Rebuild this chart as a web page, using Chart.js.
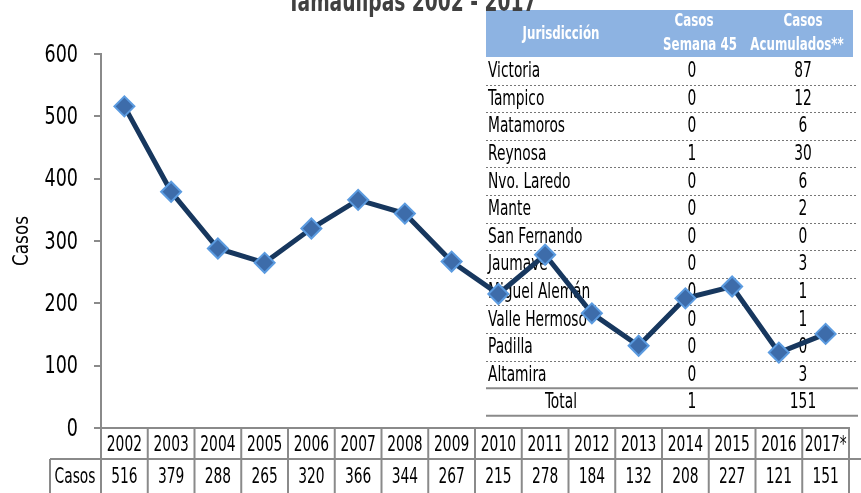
<!DOCTYPE html>
<html lang="es">
<head>
<meta charset="UTF-8">
<title>Casos Tamaulipas 2002 - 2017</title>
<style>
  body { margin: 0; background: #fff; }
  canvas { display: block; }
</style>
</head>
<body>
<canvas id="chart" width="861" height="493"></canvas>
<script src="https://cdn.jsdelivr.net/npm/chart.js"></script>
<script>
// datos
var years = ['2002','2003','2004','2005','2006','2007','2008','2009','2010','2011','2012','2013','2014','2015','2016','2017*']
var casos = [516,379,288,265,320,366,344,267,215,278,184,132,208,227,121,151]
var yTicks = [0,100,200,300,400,500,600]

var jurisdicciones = ['Victoria','Tampico','Matamoros','Reynosa','Nvo. Laredo','Mante','San Fernando','Jaumave','Miguel Alemán','Valle Hermoso','Padilla','Altamira']
var semana45 = [0,0,0,1,0,0,0,0,0,0,0,0]
var acumulados = [87,12,6,30,6,2,0,3,1,1,0,3]
var totalSemana = 1
var totalAcum = 151

var FONT = "'DejaVu Sans Condensed', 'DejaVu Sans', sans-serif"
var GRAY = '#8a8a8a'
var SX = 0.73 // el original usa una letra muy angosta

// texto comprimido a lo ancho
function txt(ctx, s, x, y, align, sx) {
  ctx.save()
  ctx.translate(x, y)
  ctx.scale(sx || SX, 1)
  ctx.textAlign = align || 'center'
  ctx.fillText(s, 0, 0)
  ctx.restore()
}

var tablas = {
  id: 'tablas',
  beforeDatasetsDraw: function(chart) {
    var ctx = chart.ctx
    ctx.save()
    // encabezado
    var left = 486, right = 853, top = 10, bottom = 57
    ctx.fillStyle = '#8db3e2'
    ctx.fillRect(left, top, right - left, bottom - top)
    ctx.fillStyle = '#fff'
    ctx.font = 'bold 18px ' + FONT
    ctx.textBaseline = 'middle'
    txt(ctx, 'Jurisdicción', 561, 34)
    txt(ctx, 'Casos', 694, 21)
    txt(ctx, 'Semana 45', 700, 45)
    txt(ctx, 'Casos', 803, 21)
    txt(ctx, 'Acumulados**', 797, 45)

    var rowH = 27.6
    ctx.font = '21px ' + FONT
    ctx.fillStyle = '#000'
    for (var i = 0; i < jurisdicciones.length; i++) {
      var cy = bottom + rowH * i + rowH / 2 + 1
      txt(ctx, jurisdicciones[i], 488, cy, 'left')
      txt(ctx, String(semana45[i]), 692, cy)
      txt(ctx, String(acumulados[i]), 803, cy)
      if (i < jurisdicciones.length - 1) {
        var ly = Math.round(bottom + rowH * (i + 1)) + 0.5
        ctx.strokeStyle = '#777'
        ctx.lineWidth = 1
        ctx.setLineDash([2, 2])
        ctx.beginPath()
        ctx.moveTo(486, ly)
        ctx.lineTo(858, ly)
        ctx.stroke()
      }
    }
    ctx.setLineDash([])
    var y1 = bottom + rowH * jurisdicciones.length
    var y2 = y1 + rowH
    ctx.strokeStyle = GRAY
    ctx.lineWidth = 2
    ctx.beginPath()
    ctx.moveTo(486, y1); ctx.lineTo(858, y1)
    ctx.moveTo(486, y2); ctx.lineTo(858, y2)
    ctx.stroke()
    var ty = (y1 + y2) / 2 + 1
    txt(ctx, 'Total', 561, ty)
    txt(ctx, String(totalSemana), 692, ty)
    txt(ctx, String(totalAcum), 803, ty)
    ctx.restore()
  },
  afterDraw: function(chart) {
    var ctx = chart.ctx
    var x = chart.scales.x
    var y = chart.scales.y
    var area = chart.chartArea
    ctx.save()
    // titulo (cortado arriba)
    ctx.fillStyle = '#404040'
    ctx.font = 'bold 28px ' + FONT
    ctx.textBaseline = 'alphabetic'
    var tw = ctx.measureText('Tamaulipas 2002 - 2017').width
    txt(ctx, 'Tamaulipas 2002 - 2017', 412, 11, 'center', 249 / tw)

    // etiquetas del eje y
    ctx.fillStyle = '#000'
    ctx.font = '25px ' + FONT
    ctx.textBaseline = 'middle'
    yTicks.forEach(function(v) {
      txt(ctx, String(v), 78, y.getPixelForValue(v) + 1, 'right', 0.78)
    })
    ctx.save()
    ctx.translate(22, (area.top + area.bottom) / 2)
    ctx.rotate(-Math.PI / 2)
    ctx.font = '22px ' + FONT
    txt(ctx, 'Casos', 0, 0, 'center', 0.85)
    ctx.restore()

    // tabla de datos bajo el eje
    var w = (area.right - area.left) / years.length
    var top = area.bottom, mid = 459, bot = 493
    ctx.strokeStyle = GRAY
    ctx.lineWidth = 2
    ctx.beginPath()
    ctx.moveTo(50, mid); ctx.lineTo(861, mid)
    ctx.moveTo(50, mid); ctx.lineTo(50, bot)
    for (var i = 0; i <= years.length; i++) {
      var vx = area.left + w * i
      ctx.moveTo(vx, top); ctx.lineTo(vx, bot)
    }
    ctx.stroke()

    ctx.font = '21px ' + FONT
    for (var j = 0; j < years.length; j++) {
      var cx = x.getPixelForValue(j)
      txt(ctx, years[j], cx, (top + mid) / 2 + 2)
      txt(ctx, String(casos[j]), cx, (mid + bot) / 2 + 2)
    }
    txt(ctx, 'Casos', 75, (mid + bot) / 2 + 2)
    ctx.restore()
  }
}

var chart = new Chart(document.getElementById('chart'), {
  type: 'line',
  data: {
    labels: years,
    datasets: [{
      data: casos,
      borderColor: '#17375e',
      borderWidth: 5,
      tension: 0,
      pointStyle: 'rectRot',
      pointRadius: 10,
      pointBackgroundColor: '#3d6caa',
      pointBorderColor: '#5b9be0',
      pointBorderWidth: 2
    }]
  },
  options: {
    responsive: false,
    animation: false,
    devicePixelRatio: 1,
    layout: { padding: { top: 54, left: 0, right: 0, bottom: 0 } },
    plugins: { legend: { display: false }, tooltip: { enabled: false } },
    scales: {
      x: {
        offset: true,
        grid: { display: false },
        border: { display: true, color: GRAY, width: 2 },
        ticks: { display: false },
        afterFit: function(s) { s.height = 65 }
      },
      y: {
        min: 0,
        max: 600,
        afterBuildTicks: function(s) { s.ticks = yTicks.map(function(v) { return { value: v } }) },
        ticks: { display: false },
        grid: { drawOnChartArea: false, tickLength: 7, color: GRAY, lineWidth: 2 },
        border: { display: true, color: GRAY, width: 2 },
        afterFit: function(s) { s.width = 101 }
      }
    }
  },
  plugins: [tablas]
})
</script>
</body>
</html>
